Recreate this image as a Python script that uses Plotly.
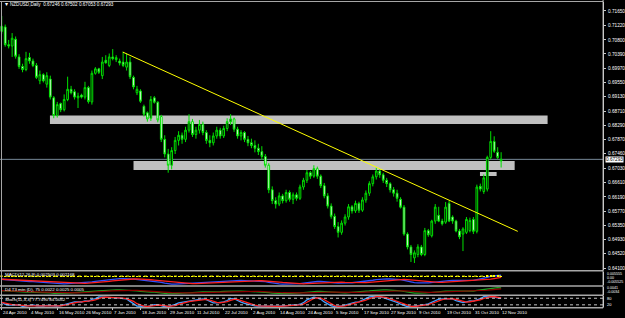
import plotly.graph_objects as go

# ---------------- data ----------------
opens = [0.7105,0.7118,0.7066,0.7062,0.7082,0.7030,0.7002,0.6993,0.7028,0.7018,
         0.7005,0.6960,0.6978,0.6950,0.6965,0.6910,0.6858,0.6893,0.6875,0.6905,
         0.6935,0.6928,0.6910,0.6918,0.6912,0.6940,0.6898,0.6982,0.6995,0.6975,
         0.7020,0.7005,0.7030,0.7022,0.7018,0.7015,0.7000,0.7015,0.6970,0.6925,
         0.6930,0.6885,0.6866,0.6850,0.6910,0.6897,0.6855,0.6788,0.6745,0.6712,
         0.6755,0.6785,0.6800,0.6788,0.6815,0.6840,0.6802,0.6815,0.6832,0.6808,
         0.6785,0.6778,0.6798,0.6815,0.6798,0.6820,0.6840,0.6848,0.6818,0.6798,
         0.6808,0.6788,0.6778,0.6770,0.6762,0.6752,0.6738,0.6712,0.6640,0.6608,
         0.6598,0.6622,0.6608,0.6632,0.6612,0.6625,0.6615,0.6648,0.6668,0.6690,
         0.6680,0.6702,0.6680,0.6652,0.6622,0.6592,0.6562,0.6532,0.6515,0.6542,
         0.6560,0.6590,0.6578,0.6600,0.6580,0.6610,0.6630,0.6658,0.6678,0.6695,
         0.6684,0.6668,0.6658,0.6640,0.6630,0.6612,0.6589,0.6510,0.6472,0.6440,
         0.6450,0.6472,0.6450,0.6520,0.6505,0.6548,0.6565,0.6548,0.6545,0.6600,
         0.6560,0.6548,0.6519,0.6510,0.6515,0.6520,0.6553,0.6518,0.6650,0.6635,
         0.6642,0.6735,0.6782,0.6750,0.67246]
highs = [0.7150,0.7125,0.7080,0.7100,0.7090,0.7038,0.7010,0.7045,0.7042,0.7025,
         0.7012,0.6990,0.6982,0.6985,0.6975,0.6915,0.6898,0.6896,0.6920,0.6972,
         0.6945,0.6935,0.6925,0.6922,0.6957,0.6945,0.6990,0.7000,0.6998,0.7030,
         0.7035,0.7040,0.7053,0.7035,0.7025,0.7045,0.7040,0.7030,0.6975,0.6945,
         0.6935,0.6890,0.6870,0.6915,0.6915,0.6900,0.6860,0.6800,0.6760,0.6765,
         0.6795,0.6812,0.6808,0.6825,0.6862,0.6848,0.6825,0.6845,0.6840,0.6815,
         0.6800,0.6808,0.6825,0.6822,0.6828,0.6850,0.6862,0.6852,0.6825,0.6815,
         0.6812,0.6798,0.6790,0.6785,0.6775,0.6768,0.6745,0.6718,0.6650,0.6618,
         0.6632,0.6628,0.6640,0.6638,0.6632,0.6632,0.6655,0.6675,0.6698,0.6695,
         0.6712,0.6708,0.6685,0.6660,0.6630,0.6600,0.6570,0.6545,0.6550,0.6568,
         0.6598,0.6595,0.6608,0.6605,0.6618,0.6638,0.6665,0.6685,0.6705,0.6700,
         0.6690,0.6675,0.6662,0.6648,0.6640,0.6618,0.6595,0.6515,0.6478,0.6462,
         0.6480,0.6478,0.6528,0.6525,0.6552,0.6598,0.6590,0.6555,0.6604,0.6608,
         0.6565,0.6552,0.6525,0.6530,0.6560,0.6558,0.6560,0.6655,0.6658,0.6685,
         0.6740,0.6812,0.6797,0.6765,0.67502]
lows = [0.7098,0.7060,0.7055,0.7030,0.7025,0.6995,0.6985,0.6988,0.7010,0.7000,
        0.6965,0.6950,0.6955,0.6940,0.6905,0.6850,0.6852,0.6868,0.6870,0.6900,
        0.6920,0.6905,0.6880,0.6908,0.6905,0.6893,0.6890,0.6978,0.6980,0.6965,
        0.7010,0.7000,0.7020,0.7015,0.7005,0.7000,0.6990,0.6965,0.6935,0.6918,
        0.6895,0.6855,0.6840,0.6842,0.6893,0.6838,0.6780,0.6735,0.6690,0.6700,
        0.6745,0.6770,0.6775,0.6780,0.6808,0.6795,0.6790,0.6805,0.6800,0.6775,
        0.6765,0.6770,0.6790,0.6790,0.6792,0.6812,0.6830,0.6810,0.6790,0.6785,
        0.6780,0.6768,0.6762,0.6750,0.6742,0.6728,0.6705,0.6630,0.6598,0.6585,
        0.6592,0.6600,0.6602,0.6605,0.6598,0.6608,0.6610,0.6640,0.6660,0.6672,
        0.6675,0.6672,0.6645,0.6615,0.6585,0.6555,0.6525,0.6500,0.6508,0.6535,
        0.6552,0.6570,0.6572,0.6572,0.6575,0.6602,0.6622,0.6650,0.6670,0.6675,
        0.6660,0.6648,0.6632,0.6620,0.6605,0.6585,0.6505,0.6465,0.6428,0.6425,
        0.6442,0.6445,0.6445,0.6502,0.6500,0.6540,0.6545,0.6535,0.6540,0.6545,
        0.6540,0.6515,0.6495,0.6460,0.6510,0.6515,0.6510,0.6512,0.6635,0.6628,
        0.6635,0.6730,0.6748,0.6730,0.67053]
closes = [0.7120,0.7066,0.7062,0.7085,0.7032,0.7002,0.6993,0.7025,0.7018,0.7005,
          0.6970,0.6978,0.6960,0.6975,0.6912,0.6858,0.6890,0.6875,0.6905,0.6935,
          0.6925,0.6912,0.6915,0.6912,0.6940,0.6899,0.6982,0.6995,0.6985,0.7015,
          0.7013,0.7030,0.7025,0.7028,0.7012,0.7005,0.7015,0.6972,0.6942,0.6935,
          0.6900,0.6862,0.6848,0.6905,0.6897,0.6845,0.6788,0.6745,0.6712,0.6755,
          0.6785,0.6800,0.6788,0.6815,0.6840,0.6802,0.6815,0.6832,0.6808,0.6785,
          0.6778,0.6798,0.6815,0.6798,0.6820,0.6840,0.6848,0.6818,0.6798,0.6808,
          0.6788,0.6778,0.6770,0.6762,0.6752,0.6738,0.6712,0.6640,0.6608,0.6598,
          0.6622,0.6608,0.6632,0.6612,0.6625,0.6615,0.6648,0.6668,0.6690,0.6680,
          0.6702,0.6680,0.6652,0.6622,0.6592,0.6562,0.6532,0.6515,0.6542,0.6560,
          0.6590,0.6578,0.6600,0.6580,0.6610,0.6630,0.6658,0.6678,0.6695,0.6684,
          0.6668,0.6658,0.6640,0.6630,0.6615,0.6589,0.6510,0.6472,0.6450,0.6455,
          0.6472,0.6450,0.6520,0.6508,0.6548,0.6589,0.6548,0.6540,0.6589,0.6548,
          0.6548,0.6519,0.6502,0.6525,0.6553,0.6550,0.6518,0.6648,0.6642,0.6675,
          0.6735,0.6782,0.6753,0.6735,0.67293]

date_labels = ["24 Apr 2010", "4 May 2010", "16 May 2010", "26 May 2010", "7 Jun 2010",
               "18 Jun 2010", "29 Jun 2010", "11 Jul 2010", "22 Jul 2010", "2 Aug 2010",
               "14 Aug 2010", "24 Aug 2010", "5 Sep 2010", "17 Sep 2010", "27 Sep 2010",
               "9 Oct 2010", "19 Oct 2010", "31 Oct 2010", "12 Nov 2010"]
label_step = 8

price_ticks = [0.71650, 0.71220, 0.70800, 0.70390, 0.69970, 0.69550, 0.69130, 0.68710,
               0.68290, 0.67870, 0.67460, 0.67030, 0.66610, 0.66190, 0.65770, 0.65350,
               0.64930, 0.64520, 0.64100]

zone_upper = [13.9, 157.4, 0.68331, 0.68580]   # bar from, bar to, price low, price high
zone_lower = [38.0, 147.9, 0.66980, 0.67244]
zone_small = [137.9, 142.7, 0.66805, 0.66922]
trend_line = [34.9, 0.70442, 148.8, 0.65179]   # bar, price, bar, price
bid_price = 0.67293

title_text = "NZDUSD,Daily  0.67246 0.67502 0.67053 0.67293"
macd_text = "MACD(12,26,9) 0.002503 0.002168"
osc_text = "D4 T3 mtn (D), 75 0.0022 0.0025 0.0005"
stoch_text = "Stoch(11,3,3) 77.7490 84.0052"
macd_scale = ["0.005555", "0.00", "-0.005525"]
osc_scale = ["0.0041", "-0.0034"]
stoch_scale = ["80", "20"]

# ---------------- indicators derived from the prices ----------------
def ema(vals, n):
    k = 2.0 / (n + 1)
    out = [vals[0]]
    for v in vals[1:]:
        out.append(out[-1] + k * (v - out[-1]))
    return out

def sma(vals, n):
    out = []
    for i in range(len(vals)):
        w = vals[max(0, i - n + 1):i + 1]
        out.append(sum(w) / len(w))
    return out

idx = list(range(len(closes)))
e12 = ema(closes, 12)
e26 = ema(closes, 26)
macd_main = [a - b for a, b in zip(e12, e26)]
macd_sig = sma(macd_main, 9)
macd_hist = [a - b for a, b in zip(macd_main, macd_sig)]

o_fast = ema(closes, 8)
o_slow = ema(closes, 21)
osc_g = [a - b for a, b in zip(o_fast, o_slow)]
osc_r = ema(osc_g, 10)

raw_k = []
for i in range(len(closes)):
    hh = max(highs[max(0, i - 10):i + 1])
    ll = min(lows[max(0, i - 10):i + 1])
    raw_k.append(100.0 * (closes[i] - ll) / (hh - ll) if hh > ll else 50.0)
stoch_k = sma(raw_k, 3)
stoch_d = sma(stoch_k, 3)

# ---------------- layout helpers ----------------
W, H = 625, 318
def py(px):
    return 1 - px / H
def pxx(px):
    return px / W

XR = [-0.5, 173.4]
XD = [0, pxx(606)]
FONT = "Liberation Sans"
AX = "#c8c8c8"

fig = go.Figure()

fig.add_trace(go.Candlestick(
    x=idx, open=opens, high=highs, low=lows, close=closes,
    increasing=dict(line=dict(color="#00e000", width=1), fillcolor="#000000"),
    decreasing=dict(line=dict(color="#00e000", width=1), fillcolor="#ffffff"),
    whiskerwidth=0, xaxis="x", yaxis="y", showlegend=False, hoverinfo="skip"))

fig.add_trace(go.Bar(x=idx, y=macd_hist, marker=dict(color="#ffff00", line=dict(width=0)),
                     width=0.35, xaxis="x2", yaxis="y5", showlegend=False))
fig.add_trace(go.Scatter(x=idx, y=macd_main, mode="lines", line=dict(color="#3050ff", width=1.3),
                         xaxis="x2", yaxis="y2", showlegend=False))
fig.add_trace(go.Scatter(x=idx, y=macd_sig, mode="lines", line=dict(color="#ff2020", width=1.3),
                         xaxis="x2", yaxis="y2", showlegend=False))
fig.add_trace(go.Scatter(x=idx, y=osc_g, mode="lines", line=dict(color="#20a020", width=1.2),
                         xaxis="x3", yaxis="y3", showlegend=False))
fig.add_trace(go.Scatter(x=idx, y=osc_r, mode="lines", line=dict(color="#900000", width=1.2),
                         xaxis="x3", yaxis="y3", showlegend=False))
fig.add_trace(go.Scatter(x=idx, y=stoch_k, mode="lines", line=dict(color="#40a0ff", width=1.3),
                         xaxis="x4", yaxis="y4", showlegend=False))
fig.add_trace(go.Scatter(x=idx, y=stoch_d, mode="lines", line=dict(color="#ff2020", width=1.3),
                         xaxis="x4", yaxis="y4", showlegend=False))

mlo, mhi = min(macd_main + macd_sig), max(macd_main + macd_sig)
mp = (mhi - mlo) * 0.25
glo, ghi = min(osc_g + osc_r), max(osc_g + osc_r)
gp = (ghi - glo) * 0.1
hr = max(abs(v) for v in macd_hist) * 7

def xax(show_ticks=False):
    d = dict(domain=XD, range=XR, showgrid=False, zeroline=False, showticklabels=False,
             showline=False, fixedrange=True)
    if show_ticks:
        d.update(ticks="outside", ticklen=2, tickcolor=AX,
                 tickvals=[i * label_step for i in range(len(date_labels))])
    return d

def yax(dom, rng, **kw):
    d = dict(domain=dom, range=rng, side="right", showgrid=False, zeroline=False,
             showline=True, linecolor=AX, linewidth=1, fixedrange=True, showticklabels=False)
    d.update(kw)
    return d

fig.update_layout(
    width=W, height=H, margin=dict(l=0, r=0, t=0, b=0),
    paper_bgcolor="#000000", plot_bgcolor="#000000", showlegend=False,
    font=dict(family=FONT, color="#ffffff", size=5),
    bargap=0,
    xaxis=dict(xax(), anchor="y", rangeslider=dict(visible=False)),
    yaxis=yax([py(271), py(2)], [0.64040, 0.71913], showticklabels=True,
              tickvals=price_ticks, ticktext=["%.5f" % v for v in price_ticks],
              ticks="outside", ticklen=2, tickcolor=AX, ticklabelstandoff=1,
              tickfont=dict(size=4.7, color="#ffffff", family=FONT), anchor="x"),
    xaxis2=dict(xax(), anchor="y2"),
    yaxis2=yax([py(286), py(272.5)], [mlo - mp * 0.4, mhi + mp * 1.6], anchor="x2"),
    yaxis5=dict(domain=[py(286), py(272.5)], range=[-2 * hr, hr], overlaying="y2",
                side="right", showgrid=False, zeroline=False, showticklabels=False,
                showline=False, fixedrange=True, anchor="x2"),
    xaxis3=dict(xax(), anchor="y3"),
    yaxis3=yax([py(295.5), py(288)], [glo - gp, ghi + gp], anchor="x3"),
    xaxis4=dict(xax(True), anchor="y4"),
    yaxis4=yax([py(308), py(297)], [0, 100], anchor="x4"),
)

shapes = []
for z in (zone_upper, zone_lower, zone_small):
    shapes.append(dict(type="rect", xref="x", yref="y", x0=z[0], x1=z[1], y0=z[2], y1=z[3],
                       fillcolor="#c0c0c0", line=dict(width=0), layer="below"))
shapes.append(dict(type="line", xref="paper", yref="y", x0=0, x1=XD[1], y0=bid_price, y1=bid_price,
                   line=dict(color="#778899", width=1), layer="below"))
shapes.append(dict(type="line", xref="x", yref="y", x0=trend_line[0], y0=trend_line[1],
                   x1=trend_line[2], y1=trend_line[3], line=dict(color="#ffff00", width=1)))
# MACD zero dotted line
shapes.append(dict(type="line", xref="x2", yref="y5", x0=-0.5, x1=len(idx) - 0.5, y0=0, y1=0,
                   line=dict(color="#ffff00", width=1, dash="dot")))
# stochastic levels
for lv in (80, 20):
    shapes.append(dict(type="line", xref="x4", yref="y4", x0=XR[0], x1=XR[1], y0=lv, y1=lv,
                       line=dict(color="#c0c0c0", width=1, dash="dot")))
# panel separators and frame
for ypx in (271.5, 287, 296.2, 308.6):
    shapes.append(dict(type="line", xref="paper", yref="paper", x0=0, x1=XD[1], y0=py(ypx), y1=py(ypx),
                       line=dict(color="#a8a8a8", width=1.5)))
shapes.append(dict(type="line", xref="paper", yref="paper", x0=0, x1=XD[1], y0=py(1.5), y1=py(1.5),
                   line=dict(color="#a8a8a8", width=1)))
shapes.append(dict(type="line", xref="paper", yref="paper", x0=pxx(1.5), x1=pxx(1.5), y0=py(309), y1=py(1.5),
                   line=dict(color="#a8a8a8", width=1)))
shapes.append(dict(type="line", xref="paper", yref="paper", x0=XD[1], x1=XD[1], y0=py(309), y1=1,
                   line=dict(color=AX, width=1)))
fig.update_layout(shapes=shapes)

ann = []
def txt(x, y, s, size=4.7, color="#ffffff", xanchor="left", bg=None, xref="paper"):
    d = dict(x=x, y=y, xref=xref, yref="paper", text=s, showarrow=False, xanchor=xanchor,
             yanchor="middle", font=dict(size=size, color=color, family=FONT))
    if bg:
        d.update(bgcolor=bg, borderpad=0)
    ann.append(d)

txt(pxx(3), py(4.5), "▾", size=6)
txt(pxx(8), py(4.5), title_text, size=4.6)
txt(pxx(3), py(275.5), macd_text, size=4.4)
txt(pxx(3), py(290.7), osc_text, size=4.4)
txt(pxx(3), py(300.7), stoch_text, size=4.4)
# current price box
txt(pxx(607.5), py(160.5), "%.5f" % bid_price, size=4.7, color="#000000", bg="#ffffff")
# indicator scale labels
txt(pxx(608), py(274.6), macd_scale[0], size=3.6)
txt(pxx(608), py(278.4), macd_scale[1], size=3.6)
txt(pxx(608), py(282.4), macd_scale[2], size=3.6)
txt(pxx(608), py(289.4), osc_scale[0], size=3.6)
txt(pxx(608), py(293.4), osc_scale[1], size=3.6)
txt(pxx(608), py(299.3), stoch_scale[0], size=4.0)
txt(pxx(608), py(305.8), stoch_scale[1], size=4.0)
for i, lab in enumerate(date_labels):
    ann.append(dict(x=i * label_step - 0.2, y=py(313.2), xref="x4", yref="paper", text=lab,
                    showarrow=False, xanchor="left", yanchor="middle",
                    font=dict(size=4.4, color="#ffffff", family=FONT)))
fig.update_layout(annotations=ann)

fig.write_html("out.html")
